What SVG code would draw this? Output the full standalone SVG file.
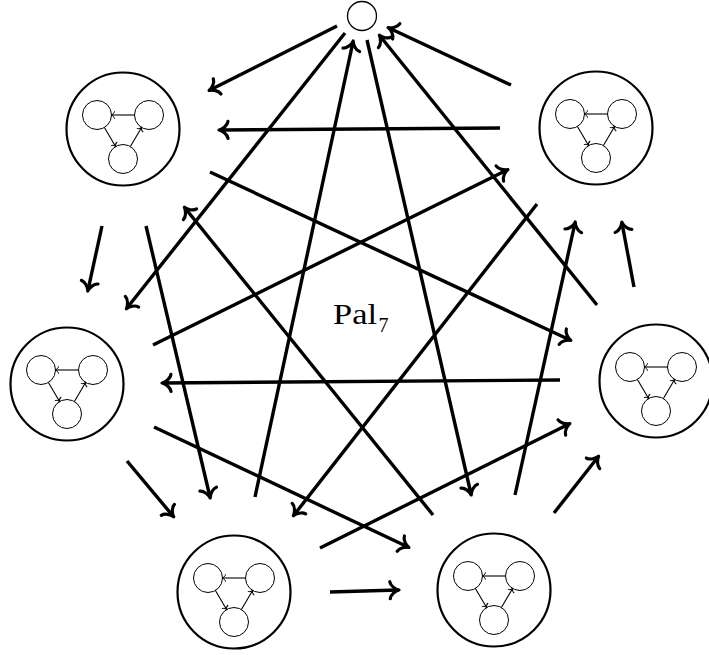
<svg xmlns="http://www.w3.org/2000/svg" width="709" height="655" viewBox="0 0 709 655">
<style>
.big{fill:none;stroke:#000;stroke-width:2.2}
.sm{fill:none;stroke:#000;stroke-width:1}
.ia{fill:none;stroke:#000;stroke-width:1.1;marker-end:url(#ah2)}
.e{fill:none;stroke:#000;stroke-width:3.4;marker-end:url(#ah)}
.lbl{font-family:"Liberation Serif","DejaVu Serif",serif;fill:#000}
</style>
<defs>
<marker id="ah" markerUnits="userSpaceOnUse" orient="auto" refX="0" refY="0" markerWidth="30" markerHeight="30" overflow="visible">
<path d="M -8,-8.5 C -7.5,-4.5 -2.5,-0.7 1,0 C -2.5,0.7 -7.5,4.5 -8,8.5" fill="none" stroke="#000" stroke-width="3.2" stroke-linecap="round" stroke-linejoin="round"/>
</marker>
<marker id="ah2" markerUnits="userSpaceOnUse" orient="auto" refX="0" refY="0" markerWidth="10" markerHeight="10" overflow="visible">
<path d="M -3,-3.3 C -2.8,-1.8 -0.9,-0.3 0.4,0 C -0.9,0.3 -2.8,1.8 -3,3.3" fill="none" stroke="#000" stroke-width="1" stroke-linecap="round"/>
</marker>
<g id="inner">
<circle class="sm" cx="-26" cy="-14" r="14.5"/>
<circle class="sm" cx="26" cy="-14" r="14.5"/>
<circle class="sm" cx="0" cy="30" r="14.5"/>
<path class="ia" d="M 11.5,-14 L -11.5,-14"/>
<path class="ia" d="M -18.6,-1.5 L -7.4,17.5"/>
<path class="ia" d="M 7.4,17.5 L 18.6,-1.5"/>
</g>
</defs>
<rect width="709" height="655" fill="#fff"/>
<g id="connectors">
<path class="e" d="M 337,26 L 210,90"/>
<path class="e" d="M 102,226 L 88,290"/>
<path class="e" d="M 127,461 L 173,516"/>
<path class="e" d="M 330,592 L 398,590"/>
<path class="e" d="M 554,513 L 598,457"/>
<path class="e" d="M 634,287 L 622,223"/>
<path class="e" d="M 511,85 L 389,28"/>
<path class="e" d="M 345,33 L 127,308"/>
<path class="e" d="M 146,226 L 210,497"/>
<path class="e" d="M 154,427 L 408,547"/>
<path class="e" d="M 320,548 L 569,424"/>
<path class="e" d="M 515,495 L 575,223"/>
<path class="e" d="M 597,305 L 380,36"/>
<path class="e" d="M 500,128 L 220,130"/>
<path class="e" d="M 367,40 L 471,494"/>
<path class="e" d="M 210,172 L 570,340"/>
<path class="e" d="M 153,345 L 507,170"/>
<path class="e" d="M 255,497 L 353,42"/>
<path class="e" d="M 433,515 L 185,208"/>
<path class="e" d="M 560,380 L 163,383"/>
<path class="e" d="M 537,204 L 294,515"/>
</g>
<g id="n0"><circle class="sm" cx="362" cy="16" r="14.5" style="stroke-width:1.3"/></g>
<g id="n1" transform="translate(123,129)"><circle class="big" r="56.5"/><use href="#inner"/></g>
<g id="n2" transform="translate(67,384)"><circle class="big" r="56.5"/><use href="#inner"/></g>
<g id="n3" transform="translate(234,592)"><circle class="big" r="56.5"/><use href="#inner"/></g>
<g id="n4" transform="translate(494,590)"><circle class="big" r="56.5"/><use href="#inner"/></g>
<g id="n5" transform="translate(656,381)"><circle class="big" r="56.5"/><use href="#inner"/></g>
<g id="n6" transform="translate(596,128)"><circle class="big" r="56.5"/><use href="#inner"/></g>
<text class="lbl" x="333" y="324" font-size="29"><tspan textLength="44" lengthAdjust="spacingAndGlyphs">Pal</tspan><tspan x="378.5" y="332" font-size="20">7</tspan></text>
</svg>
